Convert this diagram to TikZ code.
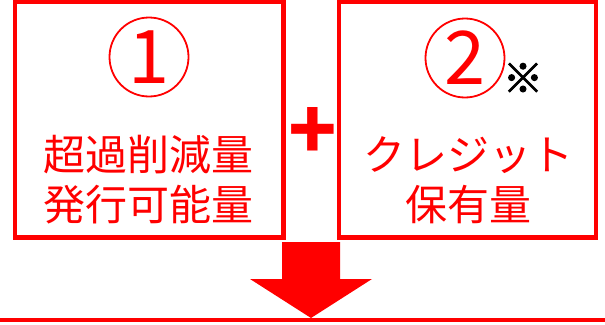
\documentclass[tikz,border=0pt]{standalone}
\usepackage{fontspec}
\newfontfamily\jpfont{Noto Sans CJK JP}
\newfontfamily\notefont[FakeBold=2.5]{Noto Sans CJK JP}
\usetikzlibrary{positioning}
\definecolor{kred}{RGB}{255,0,0}
\tikzset{
  redbox/.style={draw=kred, line width=4.5pt, inner sep=0pt},
  bodytext/.style={text=kred, font=\jpfont\fontsize{42}{50}\selectfont, align=center, inner sep=0pt},
  circnum/.style={circle, draw=kred, line width=1.8pt, minimum size=79pt, inner sep=0pt,
    text=kred, font=\jpfont\fontsize{74}{74}\selectfont},
}
\begin{document}
\begin{tikzpicture}[x=1pt,y=-1pt]
  \useasboundingbox (0,0) rectangle (605,324);
  \node (box1) [redbox, minimum width=268.5pt, minimum height=235.5pt] at (149.25,119.75) {};
  \node (box2) [redbox, minimum width=257pt, minimum height=235.5pt] at (467.5,119.75) {};

  \node (num1) [circnum] at (149,57) {1};
  \node (num2) [circnum] at (465,58) {2};
  \node (note) [text=black, font=\notefont\fontsize{40}{40}\selectfont, inner sep=0pt] at (523,78) {※};

  \node (body1) [bodytext] at (148,180) {超過削減量\\発行可能量};
  \node (body2) [bodytext] at (468,180) {クレジット\\保有量};

  \node (plus) [text=kred, font=\jpfont\bfseries\fontsize{80}{80}\selectfont, inner sep=0pt] at (313,133) {+};

  % arrow down to the line
  \fill [kred] (282,242) -- (340,242) -- (340,279) -- (372,279) -- (311,318) -- (250,279) -- (282,279) -- cycle;
  \draw [kred, line width=4.5pt] (0,320) -- (605,320);
\end{tikzpicture}
\end{document}
